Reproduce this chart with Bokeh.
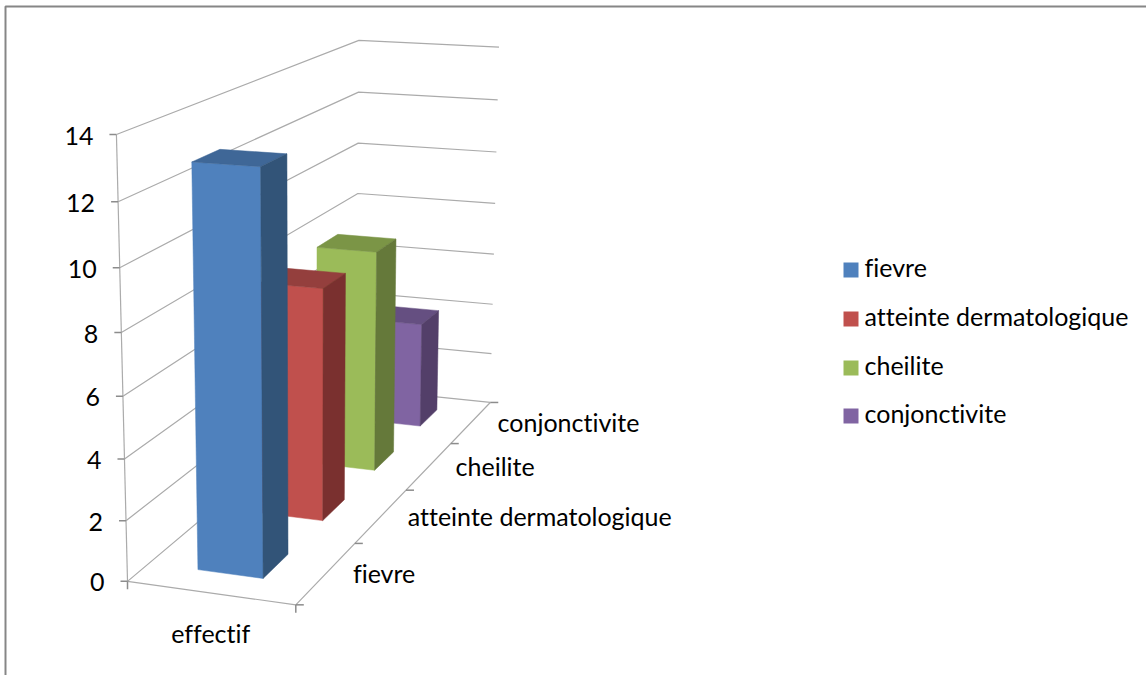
import numpy as np
from bokeh.core.properties import value
from bokeh.embed import file_html
from bokeh.models import Range1d
from bokeh.plotting import figure
from bokeh.resources import INLINE

# Chart values
series_names = ["fievre", "atteinte dermatologique", "cheilite", "conjonctivite"]
effectif = [13, 8, 8, 4]
group_label = "effectif"
value_ticks = [0, 2, 4, 6, 8, 10, 12, 14]

# Face colours for each series: front, top, side
front_colors = ["#4F81BD", "#C0504D", "#9BBB59", "#8064A2"]
top_colors = ["#3F6797", "#943F3D", "#7B9546", "#654F81"]
side_colors = ["#325478", "#7A302F", "#65793A", "#533F69"]

GRID = "#ABABAB"
TICK = "#8C8C8C"
FRAME = "#868686"
FONT = "Lato"
FONT_SIZE = "25px"

# Camera calibration: (across, value, depth) -> screen pixel
calibration = [
    ((0, 0, 0), (127, 581)), ((0, 2, 0), (125, 520)), ((0, 4, 0), (124, 458)),
    ((0, 6, 0), (122, 396)), ((0, 8, 0), (121, 332)), ((0, 10, 0), (119, 267)),
    ((0, 12, 0), (118, 202)), ((0, 14, 0), (116, 134)),
    ((1, 0, 0), (295, 604)),
    ((1, 0, 1), (354, 543)), ((1, 0, 2), (407, 490)), ((1, 0, 3), (451, 443)),
    ((1, 0, 4), (488, 402)), ((1, 2, 4), (491, 353)), ((1, 4, 4), (492, 304)),
    ((1, 6, 4), (494, 254)), ((1, 8, 4), (495, 203)), ((1, 10, 4), (496, 151)),
    ((1, 12, 4), (497, 100)), ((1, 14, 4), (498, 46)),
    ((0, 14, 4), (358, 40)), ((0, 12, 4), (358, 91)), ((0, 10, 4), (358, 143)),
    ((0, 8, 4), (358, 193)),
]


def fit_camera(points):
    rows = []
    for (u, v, d), (sx, sy) in points:
        X = np.array([u, v / 14, d / 4, 1.0])
        sx, sy = sx / 1000, sy / 1000
        rows.append(np.r_[X, np.zeros(4), -sx * X])
        rows.append(np.r_[np.zeros(4), X, -sy * X])
    return np.linalg.svd(np.array(rows))[2][-1].reshape(3, 4)


CAMERA = fit_camera(calibration)


def project(u, v, d):
    h = CAMERA @ np.array([u, v / 14, d / 4, 1.0])
    return h[0] / h[2] * 1000, h[1] / h[2] * 1000


def polyline(*corners):
    pts = [project(*c) for c in corners]
    return [p[0] for p in pts], [p[1] for p in pts]


p = figure(width=1146, height=675, output_backend="svg", toolbar_location=None,
           x_range=Range1d(0, 1146), y_range=Range1d(675, 0),
           min_border=0, outline_line_color=None)
p.axis.visible = False
p.grid.visible = False
p.background_fill_color = "white"
p.border_fill_color = "white"

# Chart-area frame along the top and left
p.line([5, 5, 1146], [675, 6, 6], line_color=FRAME, line_width=2)

# Wall gridlines and floor outline
wall_x, wall_y = [], []
for v in value_ticks:
    xs, ys = polyline((0, v, 0), (0, v, 4), (1, v, 4))
    wall_x.append(xs)
    wall_y.append(ys)
xs, ys = polyline((0, 0, 0), (1, 0, 0), (1, 0, 4))
wall_x.append(xs)
wall_y.append(ys)
xs, ys = polyline((0, 0, 0), (0, 14, 0))
wall_x.append(xs)
wall_y.append(ys)
p.multi_line(wall_x, wall_y, line_color=GRID, line_width=1.2)

# Tick marks on the value axis and the depth axis
tick_x, tick_y = [], []
for v in value_ticks:
    x0, y0 = project(0, v, 0)
    tick_x.append([x0 - 7, x0])
    tick_y.append([y0, y0])
for d in range(len(series_names) + 1):
    x0, y0 = project(1, 0, d)
    tick_x.append([x0, x0 + 8])
    tick_y.append([y0, y0])
for u in (0, 1):
    x0, y0 = project(u, 0, 0)
    tick_x.append([x0, x0])
    tick_y.append([y0, y0 + 8])
p.multi_line(tick_x, tick_y, line_color=TICK, line_width=1.5)

# Bars are painted back to front, each with its front, top and side faces
BAR_U = (0.3, 0.695)
BAR_D = (0.3, 0.7)
for i in reversed(range(len(effectif))):
    v = effectif[i]
    u0, u1 = BAR_U
    d0, d1 = i + BAR_D[0], i + BAR_D[1]
    faces = [
        ([(u0, 0, d0), (u1, 0, d0), (u1, v, d0), (u0, v, d0)], front_colors[i]),
        ([(u0, v, d0), (u1, v, d0), (u1, v, d1), (u0, v, d1)], top_colors[i]),
        ([(u1, 0, d0), (u1, 0, d1), (u1, v, d1), (u1, v, d0)], side_colors[i]),
    ]
    for corners, color in faces:
        xs, ys = polyline(*corners)
        p.patch(xs, ys, fill_color=color, line_color=color, line_width=0.5)


def label(x, y, text, align="left"):
    p.text([x], [y], text=[text], text_font=value(FONT), text_font_size=FONT_SIZE,
           text_color="#000000", text_align=align, text_baseline="middle")


# Value-axis labels
for v in value_ticks:
    x0, y0 = project(0, v, 0)
    label(x0 - 23, y0 + 1, str(v), align="right")

# Group label below the floor
gx, gy = project(0.5, 0, 0)
label(gx, gy + 40, group_label, align="center")

# Depth-axis category labels
for i, name in enumerate(series_names):
    x0, y0 = project(1, 0, i + 0.5)
    label(x0 + 26.5, y0, name)

# Legend
legend_x = 864
legend_y = [268, 317, 366, 414]
for name, color, y in zip(series_names, front_colors, legend_y):
    p.rect([850.5], [y + 1.5], width=15, height=15, fill_color=color, line_color=None)
    label(legend_x, y - 2, name)

# Plain "f" + "i" letterforms rather than the joined ligature
html = file_html(p, INLINE).replace(
    "</head>", "<style>body{font-variant-ligatures:none}</style></head>", 1)
open("out.html", "w").write(html)
